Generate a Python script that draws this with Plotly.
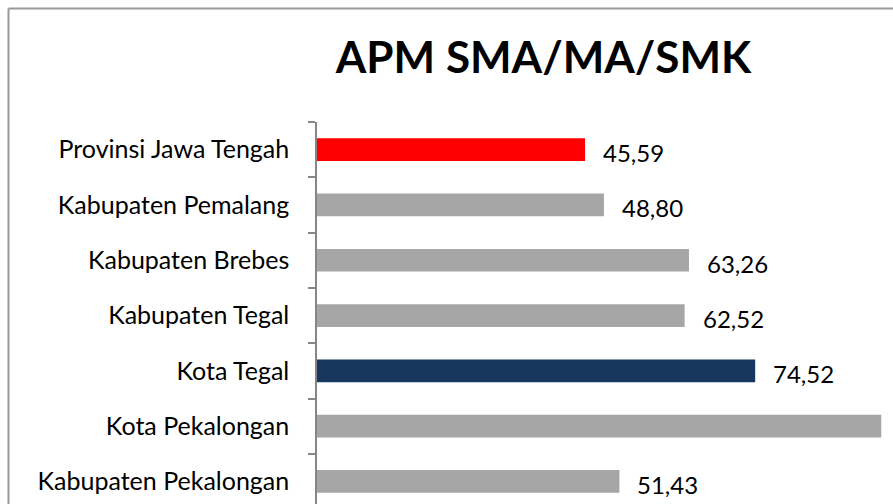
import plotly.graph_objects as go

# APM (angka partisipasi murni) SMA/MA/SMK per wilayah, dari atas ke bawah
wilayah = [
    "Provinsi Jawa Tengah",
    "Kabupaten Pemalang",
    "Kabupaten Brebes",
    "Kabupaten Tegal",
    "Kota Tegal",
    "Kota Pekalongan",
    "Kabupaten Pekalongan",
]
apm = [45.59, 48.80, 63.26, 62.52, 74.52, 95.96, 51.43]
warna = ["#FF0000", "#A6A6A6", "#A6A6A6", "#A6A6A6", "#17375E", "#A6A6A6", "#A6A6A6"]

FONT = "Lato"
W, H = 893, 504
ML, MT = 317, 122
PW, PH = W - ML, H - MT
X_MAX = PW / 5.88

fig = go.Figure(
    go.Bar(
        x=apm,
        y=wilayah,
        orientation="h",
        marker=dict(color=warna, line=dict(width=0)),
        width=0.41,
        hoverinfo="skip",
    )
)

# value labels to the right of each bar, decimal comma
# (a label that would start past the right edge of the plot is left out)
for nama, nilai in zip(wilayah, apm):
    if nilai > X_MAX - 5:
        continue
    fig.add_annotation(
        x=nilai, y=nama, xref="x", yref="y",
        text=f"{nilai:.2f}".replace(".", ","),
        showarrow=False, xanchor="left", yanchor="middle",
        xshift=16, yshift=-3,
        font=dict(family=FONT, size=24, color="#000000"),
    )

def px_x(p):
    return (p - ML) / PW

def px_y(p):
    return 1 - (p - MT) / PH

# chart-area frame (top and left edges)
frame = dict(color="#9A9A9A", width=2)
fig.add_shape(type="line", xref="paper", yref="paper",
              x0=px_x(8.5), x1=px_x(W + 20), y0=px_y(8.5), y1=px_y(8.5), line=frame)
fig.add_shape(type="line", xref="paper", yref="paper",
              x0=px_x(8.5), x1=px_x(8.5), y0=px_y(8.5), y1=px_y(H + 20), line=frame)

fig.update_layout(
    width=W, height=H,
    margin=dict(l=ML, r=0, t=MT, b=0),
    paper_bgcolor="white", plot_bgcolor="white",
    showlegend=False,
    title=dict(
        text="<b>APM SMA/MA/SMK</b>",
        xref="container", yref="container",
        x=543.5 / W, xanchor="center",
        y=1 - 58 / H, yanchor="middle",
        font=dict(family=FONT, size=44, color="#000000"),
    ),
    xaxis=dict(
        range=[0, X_MAX],
        visible=False,
        showgrid=False, zeroline=False,
    ),
    yaxis=dict(
        type="category",
        categoryorder="array", categoryarray=wilayah,
        range=[-0.5 + PH / 55.3, -0.5],
        showline=True, linecolor="#868686", linewidth=1.5,
        ticks="outside", tickson="boundaries", ticklen=7,
        tickcolor="#868686", tickwidth=1.5,
        ticklabelstandoff=21,
        tickfont=dict(family=FONT, size=25, color="#000000"),
        showgrid=False, zeroline=False,
    ),
)

fig.write_html("out.html")
